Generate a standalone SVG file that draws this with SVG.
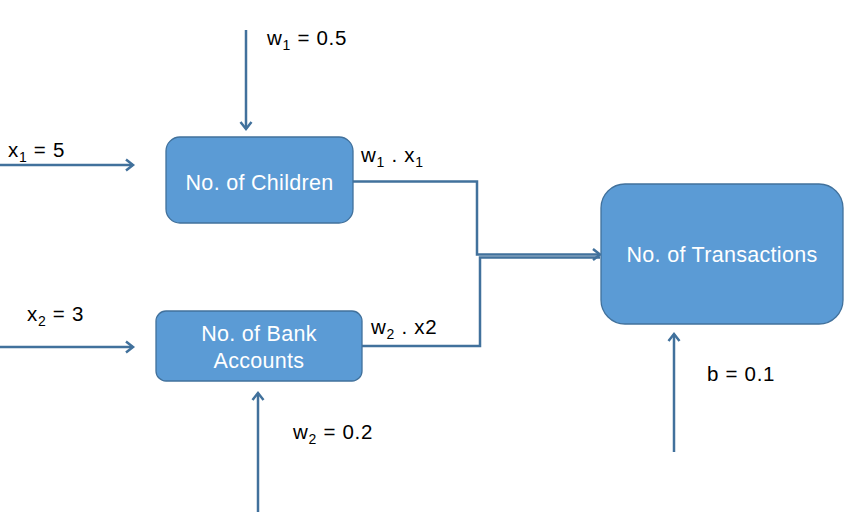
<svg xmlns="http://www.w3.org/2000/svg" width="864" height="530" viewBox="0 0 864 530">
<style>
.node{fill:#5B9BD5;stroke:#41719C;stroke-width:1.3}
.nt{font-family:"Liberation Sans",Arial,sans-serif;font-size:21.5px;letter-spacing:0.3px;fill:#FFFFFF;text-anchor:middle}
.lb{font-family:"Liberation Sans",Arial,sans-serif;font-size:20.5px;letter-spacing:0.7px;fill:#000000}
.sub{font-size:14px}
.c{fill:none;stroke:#41719C;stroke-width:2.5}
</style>
<defs>
<marker id="ah" markerWidth="14" markerHeight="14" viewBox="0 0 14 14" refX="11" refY="7" orient="auto" markerUnits="userSpaceOnUse">
<path d="M4,1.5 L11,7 L4,12.5" fill="none" stroke="#41719C" stroke-width="2.5"/>
</marker>
</defs>
<rect width="864" height="530" fill="#FFFFFF"/>
<g id="connectors">
<line class="c" x1="0" y1="165" x2="133" y2="165" marker-end="url(#ah)"/>
<line class="c" x1="246" y1="30" x2="246" y2="129" marker-end="url(#ah)"/>
<line class="c" x1="0" y1="347" x2="133" y2="347" marker-end="url(#ah)"/>
<line class="c" x1="258" y1="512" x2="258" y2="393" marker-end="url(#ah)"/>
<line class="c" x1="674" y1="452" x2="674" y2="334" marker-end="url(#ah)"/>
<polyline class="c" points="353,181.5 477,181.5 477,254.5 600,254.5" marker-end="url(#ah)"/>
<polyline class="c" points="362,346 480,346 480,257.5 600,257.5"/>
</g>
<g id="node-children">
<rect class="node" x="166" y="137" width="187" height="86" rx="14"/>
<text class="nt" x="259.5" y="190">No. of Children</text>
</g>
<g id="node-bank">
<rect class="node" x="156" y="311" width="206" height="70" rx="10"/>
<text class="nt" x="259" y="341">No. of Bank</text>
<text class="nt" x="259" y="368">Accounts</text>
</g>
<g id="node-transactions">
<rect class="node" x="601" y="184" width="242" height="140" rx="24"/>
<text class="nt" x="722" y="262">No. of Transactions</text>
</g>
<g id="labels">
<text class="lb" x="8" y="157">x<tspan class="sub" dy="5">1</tspan><tspan dy="-5"> = 5</tspan></text>
<text class="lb" x="267" y="44.5">w<tspan class="sub" dy="5">1</tspan><tspan dy="-5"> = 0.5</tspan></text>
<text class="lb" x="361" y="162">w<tspan class="sub" dy="5">1</tspan><tspan dy="-5"> . x</tspan><tspan class="sub" dy="5">1</tspan></text>
<text class="lb" x="27" y="321">x<tspan class="sub" dy="5">2</tspan><tspan dy="-5"> = 3</tspan></text>
<text class="lb" x="371" y="334">w<tspan class="sub" dy="5">2</tspan><tspan dy="-5"> . x2</tspan></text>
<text class="lb" x="293" y="439">w<tspan class="sub" dy="5">2</tspan><tspan dy="-5"> = 0.2</tspan></text>
<text class="lb" x="707" y="381">b = 0.1</text>
</g>
</svg>
